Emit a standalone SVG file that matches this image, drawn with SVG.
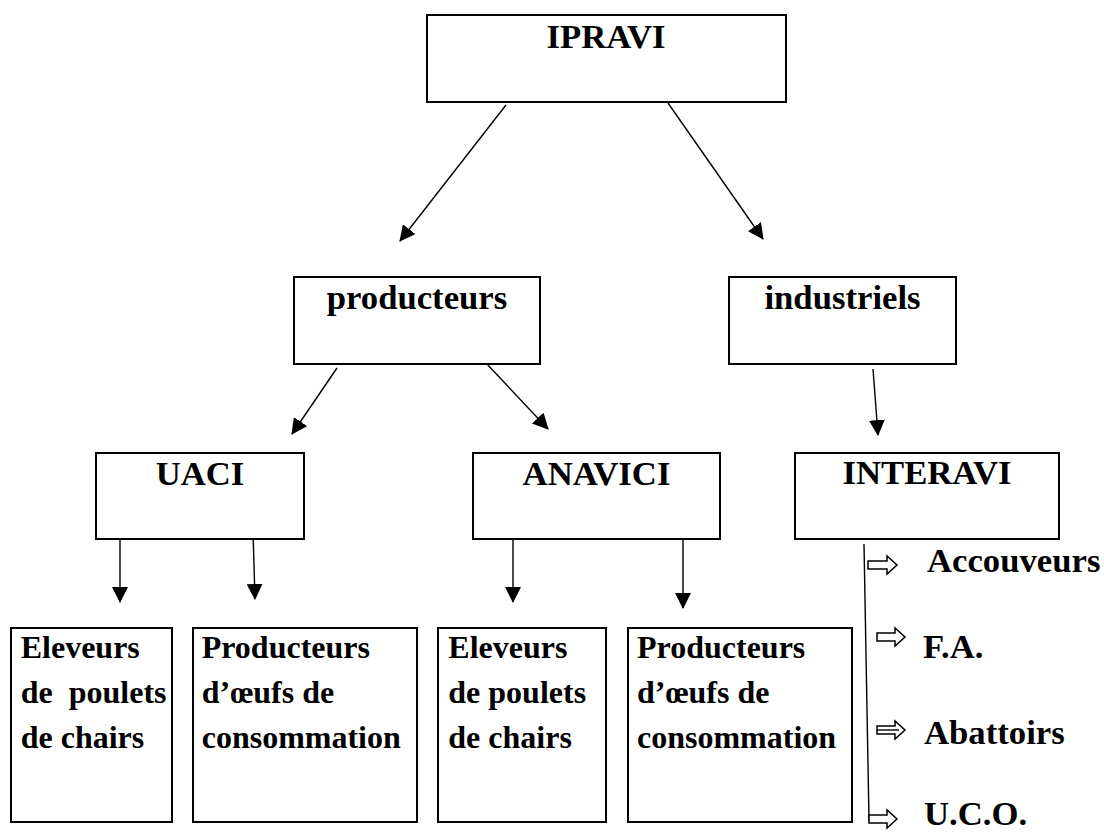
<svg xmlns="http://www.w3.org/2000/svg" width="1104" height="834" viewBox="0 0 1104 834">
<style>
.box{fill:#fff;stroke:#000;stroke-width:2}
.hd{font-family:"Liberation Serif","Times New Roman",serif;font-weight:bold;font-size:34.7px;fill:#000}
.hdc{text-anchor:middle}
.tx{font-family:"Liberation Serif","Times New Roman",serif;font-weight:bold;font-size:32px;fill:#000}
.ln{stroke:#000;stroke-width:1.4;fill:none}
.ha{fill:#fff;stroke:#000;stroke-width:1.5}
</style>
<defs>
<marker id="ah" viewBox="0 0 16 16" refX="15" refY="8" markerWidth="16" markerHeight="16" markerUnits="userSpaceOnUse" orient="auto">
<path d="M0,0 L16,8 L0,16 Z" fill="#000"/>
</marker>
</defs>
<rect width="1104" height="834" fill="#fff"/>
<g id="connectors">
<line class="ln" x1="506" y1="105" x2="400" y2="241" marker-end="url(#ah)"/>
<line class="ln" x1="668" y1="103" x2="763" y2="239" marker-end="url(#ah)"/>
<line class="ln" x1="337" y1="368" x2="292" y2="434" marker-end="url(#ah)"/>
<line class="ln" x1="486" y1="363" x2="548" y2="429" marker-end="url(#ah)"/>
<line class="ln" x1="873" y1="369" x2="878" y2="435" marker-end="url(#ah)"/>
<line class="ln" x1="120" y1="533" x2="120" y2="602" marker-end="url(#ah)"/>
<line class="ln" x1="253" y1="531" x2="255" y2="599" marker-end="url(#ah)"/>
<line class="ln" x1="513" y1="533" x2="513" y2="602" marker-end="url(#ah)"/>
<line class="ln" x1="683" y1="540" x2="683" y2="608" marker-end="url(#ah)"/>
<line class="ln" x1="864" y1="544" x2="869" y2="820"/>
<path class="ha" d="M868,561 H887 V556 L897,565 L887,574 V569 H868 Z"/>
<path class="ha" d="M877,633 H895 V628 L905,637 L895,646 V641 H877 Z"/>
<path class="ha" d="M877,726 H895 V721 L905,730 L895,739 V734 H877 Z"/>
<line class="ln" x1="877" y1="730" x2="899" y2="730" stroke-width="1.2"/>
<path class="ha" d="M869,815 H887 V810 L897,819 L887,828 V823 H869 Z"/>
</g>
<g id="n-ipravi">
<rect class="box" x="427" y="15" width="359" height="87"/>
<text class="hd hdc" x="606" y="48">IPRAVI</text>
</g>
<g id="n-producteurs">
<rect class="box" x="294" y="277" width="246" height="87"/>
<text class="hd hdc" x="417" y="309">producteurs</text>
</g>
<g id="n-industriels">
<rect class="box" x="729" y="277" width="227" height="87"/>
<text class="hd hdc" x="842.5" y="309">industriels</text>
</g>
<g id="n-uaci">
<rect class="box" x="96" y="453" width="208" height="86"/>
<text class="hd hdc" x="200" y="485">UACI</text>
</g>
<g id="n-anavici">
<rect class="box" x="473" y="453" width="247" height="86"/>
<text class="hd hdc" x="596.5" y="485">ANAVICI</text>
</g>
<g id="n-interavi">
<rect class="box" x="795" y="453" width="264" height="86"/>
<text class="hd hdc" x="927" y="484">INTERAVI</text>
</g>
<g id="n-eleveurs1">
<rect class="box" x="11" y="628" width="161" height="194"/>
<text class="tx" x="20.7" y="658">Eleveurs</text>
<text class="tx" x="20.7" y="703" xml:space="preserve">de  poulets</text>
<text class="tx" x="20.7" y="748">de chairs</text>
</g>
<g id="n-producteurs1">
<rect class="box" x="193" y="628" width="224" height="194"/>
<text class="tx" x="201.7" y="658">Producteurs</text>
<text class="tx" x="201.7" y="703">d’œufs de</text>
<text class="tx" x="201.7" y="748">consommation</text>
</g>
<g id="n-eleveurs2">
<rect class="box" x="438" y="628" width="168" height="194"/>
<text class="tx" x="448.3" y="658">Eleveurs</text>
<text class="tx" x="448.3" y="703">de poulets</text>
<text class="tx" x="448.3" y="748">de chairs</text>
</g>
<g id="n-producteurs2">
<rect class="box" x="628" y="628" width="224" height="194"/>
<text class="tx" x="637" y="658">Producteurs</text>
<text class="tx" x="637" y="703">d’œufs de</text>
<text class="tx" x="637" y="748">consommation</text>
</g>
<g id="n-accouveurs">
<text class="hd" x="927" y="572">Accouveurs</text>
</g>
<g id="n-fa">
<text class="hd" x="923" y="658">F.A.</text>
</g>
<g id="n-abattoirs">
<text class="hd" x="924" y="744">Abattoirs</text>
</g>
<g id="n-uco">
<text class="hd" x="924" y="825">U.C.O.</text>
</g>
</svg>
